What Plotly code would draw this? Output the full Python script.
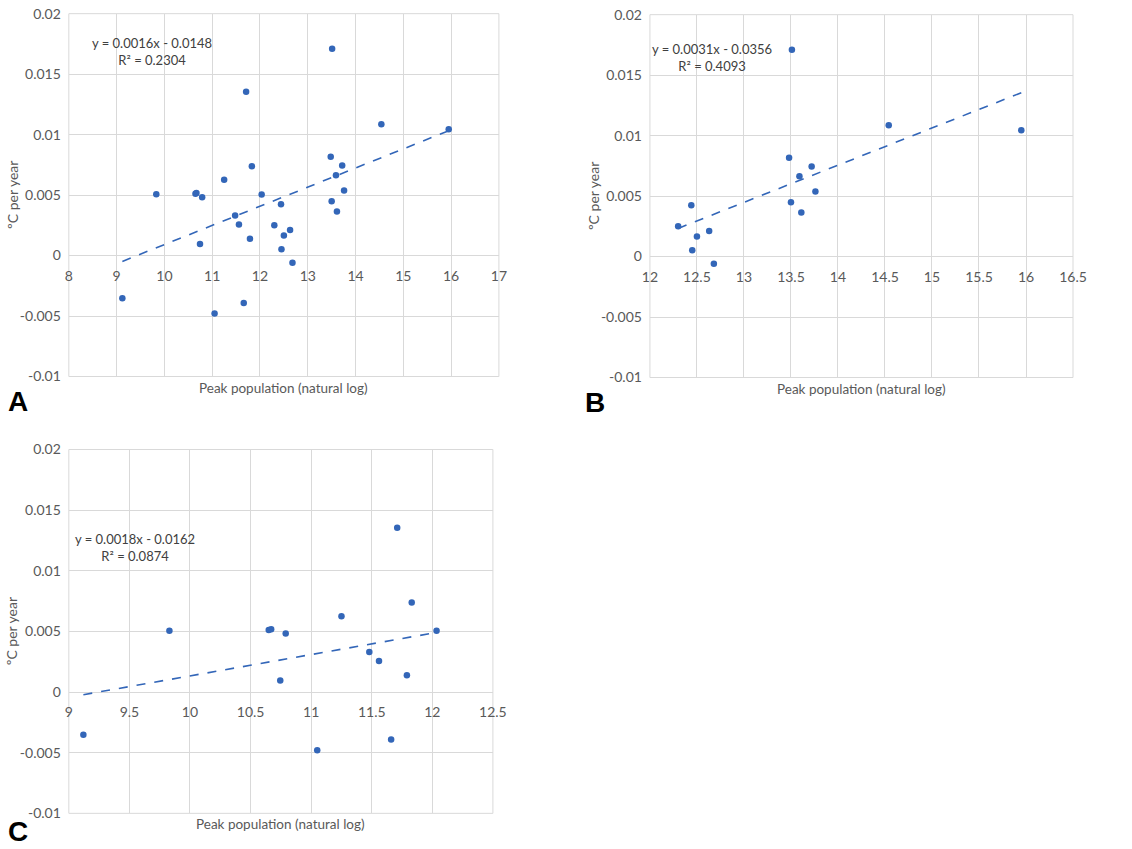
import numpy as np
import plotly.graph_objects as go

# ---- data ----
# smaller settlements (panel C)
pop_small = [9.12, 9.83, 10.65, 10.67, 10.79, 10.745, 11.05, 11.25, 11.48, 11.56, 11.66, 11.71, 11.79, 11.83, 12.035]
temp_small = [-0.00352, 0.00506, 0.00512, 0.00518, 0.00483, 0.00096, -0.00479, 0.00626, 0.00331, 0.00256, -0.00392, 0.01355, 0.00139, 0.00739, 0.00505]
# larger settlements (panel B)
pop_large = [12.30, 12.44, 12.45, 12.50, 12.63, 12.68, 13.48, 13.50, 13.51, 13.59, 13.61, 13.72, 13.76, 14.54, 15.95]
temp_large = [0.00251, 0.00425, 0.00053, 0.00165, 0.00211, -0.00059, 0.00816, 0.00450, 0.01710, 0.00664, 0.00364, 0.00744, 0.00538, 0.01085, 0.01045]
# all settlements (panel A)
pop_all = pop_small + pop_large
temp_all = temp_small + temp_large

eq_A = "y = 0.0016x - 0.0148<br>R² = 0.2304"
eq_B = "y = 0.0031x - 0.0356<br>R² = 0.4093"
eq_C = "y = 0.0018x - 0.0162<br>R² = 0.0874"

y_ticks = [-0.01, -0.005, 0, 0.005, 0.01, 0.015, 0.02]
y_tick_text = ["-0.01", "-0.005", "0", "0.005", "0.01", "0.015", "0.02"]
xticks_A = [8, 9, 10, 11, 12, 13, 14, 15, 16, 17]
xticks_B = [12, 12.5, 13, 13.5, 14, 14.5, 15, 15.5, 16, 16.5]
xticks_C = [9, 9.5, 10, 10.5, 11, 11.5, 12, 12.5]

W, H = 1132, 849
S = 1.02   # layout spread about the page centre
DX = 4     # horizontal nudge, px
BLUE = "#3366B8"
GRID = "#D9D9D9"
TXT = "#595959"
FONT = "Lato, 'Open Sans', sans-serif"


def fx(px):
    return (W / 2 + (px - W / 2) * S + DX) / W


def fy(py):
    return 1 - (H / 2 + (py - H / 2) * S) / H


panels = [
    # name, xs, ys, xrange, xticks, box px (l, r, t, b), eq, eq pos, letter pos
    ("A", pop_all, temp_all, [8, 17], xticks_A, (68, 498, 13, 376), eq_A, (9.74, 0.01685), (17, 401)),
    ("B", pop_large, temp_large, [12, 16.5], xticks_B, (649, 1072, 14, 377), eq_B, (12.66, 0.0165), (594, 402)),
    ("C", pop_small, temp_small, [9, 12.5], xticks_C, (68, 492, 449, 813), eq_C, (9.545, 0.01195), (17, 838)),
]

fig = go.Figure()
annotations = []
shapes = []
for i, (name, xs, ys, xr, xt, box, eq, eqpos, lpos) in enumerate(panels):
    l, r, t, b = box
    sfx = "" if i == 0 else str(i + 1)
    xa, ya = "x" + sfx, "y" + sfx
    ydom = [fy(b), fy(t)]
    xdom = [fx(l), fx(r)]
    zero_pos = ydom[0] + (0 - (-0.01)) / 0.03 * (ydom[1] - ydom[0])

    fig.add_trace(go.Scatter(x=xs, y=ys, mode="markers", xaxis=xa, yaxis=ya,
                             marker=dict(color=BLUE, size=6.5), showlegend=False))
    # linear trendline fitted to the data, from min to max x
    k, c = np.polyfit(xs, ys, 1)
    xl = np.array([min(xs), max(xs)])
    fig.add_trace(go.Scatter(x=xl, y=k * xl + c, mode="lines", xaxis=xa, yaxis=ya,
                             line=dict(color=BLUE, width=1.6, dash="dash"), showlegend=False))

    fig.layout["xaxis" + sfx] = dict(
        domain=xdom, range=xr, anchor="free", position=zero_pos,
        tickvals=xt, ticktext=[f"{v:g}" for v in xt],
        showgrid=True, gridcolor=GRID, gridwidth=1, zeroline=False, showline=False,
        ticks="", ticklabelstandoff=10, tickfont=dict(family=FONT, size=14, color=TXT),
    )
    fig.layout["yaxis" + sfx] = dict(
        domain=ydom, range=[-0.01, 0.02], anchor=xa,
        tickvals=y_ticks, ticktext=y_tick_text,
        showgrid=True, gridcolor=GRID, gridwidth=1, zeroline=False,
        showline=False,
        ticks="", ticklabelstandoff=7, tickfont=dict(family=FONT, size=14, color=TXT),
    )
    shapes.append(dict(type="rect", xref=xa + " domain", yref=ya + " domain",
                       x0=0, x1=1, y0=0, y1=1, line=dict(color=GRID, width=1), layer="below"))
    # axis titles
    annotations.append(dict(text="Peak population (natural log)", xref="paper", yref="paper",
                            x=fx((l + r) / 2), y=fy(b + 11), yanchor="middle", xanchor="center",
                            showarrow=False, font=dict(family=FONT, size=13.5, color=TXT)))
    annotations.append(dict(text="ºC per year", xref="paper", yref="paper",
                            x=fx(l - 57), y=fy((t + b) / 2), textangle=-90,
                            xanchor="center", yanchor="middle",
                            showarrow=False, font=dict(family=FONT, size=14, color=TXT)))
    # equation
    annotations.append(dict(text=eq, xref=xa, yref=ya, x=eqpos[0], y=eqpos[1],
                            showarrow=False, align="center", xanchor="center", yanchor="middle",
                            font=dict(family=FONT, size=13, color="#404040")))
    # panel letter
    annotations.append(dict(text="<b>" + name + "</b>", xref="paper", yref="paper",
                            x=fx(lpos[0]), y=max(fy(lpos[1]), 0.012), xanchor="center", yanchor="middle",
                            showarrow=False, font=dict(family="Liberation Sans, Arial, sans-serif", size=28, color="black")))

fig.update_layout(
    width=W, height=H, margin=dict(l=0, r=0, t=0, b=0),
    paper_bgcolor="white", plot_bgcolor="white",
    annotations=annotations, shapes=shapes, showlegend=False,
)
fig.write_html("out.html", config={"displayModeBar": False},
               post_script="document.body.style.margin='0';document.body.style.overflow='hidden';")
